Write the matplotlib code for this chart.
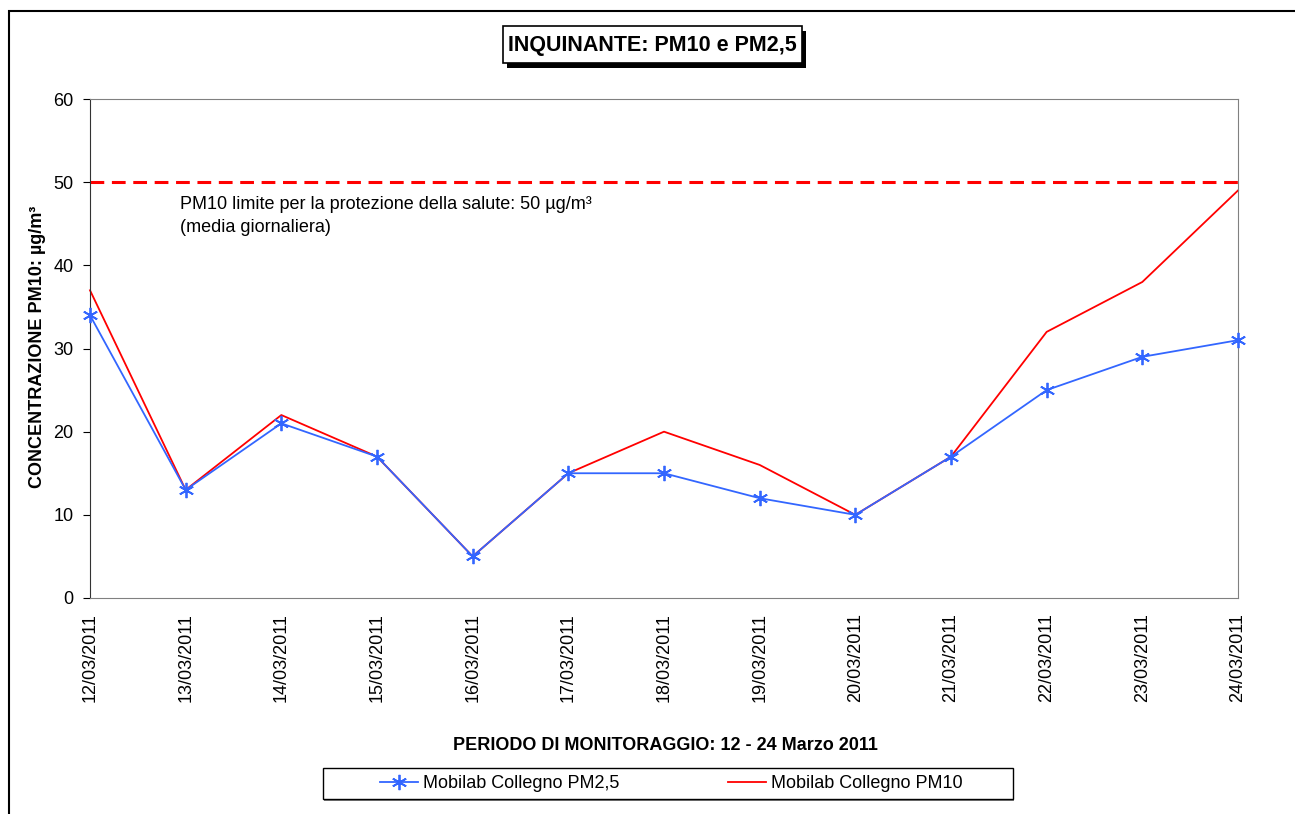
""" PM10 / PM2.5 chart for Mobilab Collegno """

import matplotlib.pyplot as plt
from matplotlib.patches import Rectangle

plt.rcParams['font.family'] = ['Liberation Sans', 'DejaVu Sans']

dates = ['12/03/2011', '13/03/2011', '14/03/2011', '15/03/2011', '16/03/2011',
         '17/03/2011', '18/03/2011', '19/03/2011', '20/03/2011', '21/03/2011',
         '22/03/2011', '23/03/2011', '24/03/2011']
pm25 = [34, 13, 21, 17, 5, 15, 15, 12, 10, 17, 25, 29, 31]
pm10 = [37, 13, 22, 17, 5, 15, 20, 16, 10, 17, 32, 38, 49]
limit = 50

W, H = 1295, 814


def box(x0, y0, x1, y1, **kw):
    # rectangle given in pixel coords measured from the top-left corner
    fig.add_artist(Rectangle((x0 / W, 1 - y1 / H), (x1 - x0) / W, (y1 - y0) / H,
                             transform=fig.transFigure, **kw))


fig = plt.figure(figsize=(W / 100, H / 100), dpi=100)

# outer chart border (only left/top fall inside the picture)
box(9, 11, 1400, 900, fill=False, edgecolor='black', linewidth=1.5)

ax = fig.add_axes([90 / W, 1 - 598 / H, (1238 - 90) / W, (598 - 99) / H])

x = list(range(len(dates)))
ax.plot(x, [limit] * len(x), color='#FF0000', linestyle=(0, (4.5, 2.5)), linewidth=2.2)
ax.plot(x, pm25, color='#3366FF', linewidth=1.3, marker=(6, 2, 0),
        markersize=11, markeredgewidth=1.3, clip_on=False, zorder=3,
        label='Mobilab Collegno PM2,5')
ax.plot(x, pm10, color='#FF0000', linewidth=1.3, clip_on=False,
        label='Mobilab Collegno PM10')

ax.set_xlim(0, len(dates) - 1)
ax.set_ylim(0, 60)
ax.set_yticks(range(0, 61, 10))
ax.set_xticks(x)
ax.set_xticklabels(dates, rotation=90, fontsize=13)
ax.tick_params(axis='y', labelsize=13, length=5, direction='out', pad=7)
ax.tick_params(axis='x', length=0, pad=11)
for side in ['top', 'right', 'bottom']:
    ax.spines[side].set_color('#808080')
ax.spines['left'].set_color('#333333')

fig.text(38 / W, 1 - 347 / H, 'CONCENTRAZIONE PM10: µg/m³', rotation=90,
         ha='center', va='center', fontsize=13, fontweight='bold')
fig.text(665 / W, 1 - 746 / H, 'PERIODO DI MONITORAGGIO: 12 - 24 Marzo 2011',
         ha='center', va='center', fontsize=13, fontweight='bold')

ax.text(0.94, 48.3, 'PM10 limite per la protezione della salute: 50 µg/m³\n(media giornaliera)',
        fontsize=13, va='top', ha='left', linespacing=1.4)

# title box with shadow
box(507, 31, 806, 68, facecolor='black', edgecolor='none')
box(503, 26, 802, 63, facecolor='white', edgecolor='black', linewidth=1.2)
fig.text(652 / W, 1 - 45 / H, 'INQUINANTE: PM10 e PM2,5', ha='center', va='center',
         fontsize=15.5, fontweight='bold')

# legend box
box(324, 771, 1014, 801, facecolor='#808080', edgecolor='none')
box(323, 768, 1013, 799, facecolor='white', edgecolor='black', linewidth=1.0)
fig.legend(loc='center left', bbox_to_anchor=(380 / W, 1 - 784 / H), ncol=2,
           fontsize=13, frameon=False, borderpad=0, borderaxespad=0,
           columnspacing=6.0, handlelength=2.1, handletextpad=0.28)

plt.savefig('out.png', dpi=100)
